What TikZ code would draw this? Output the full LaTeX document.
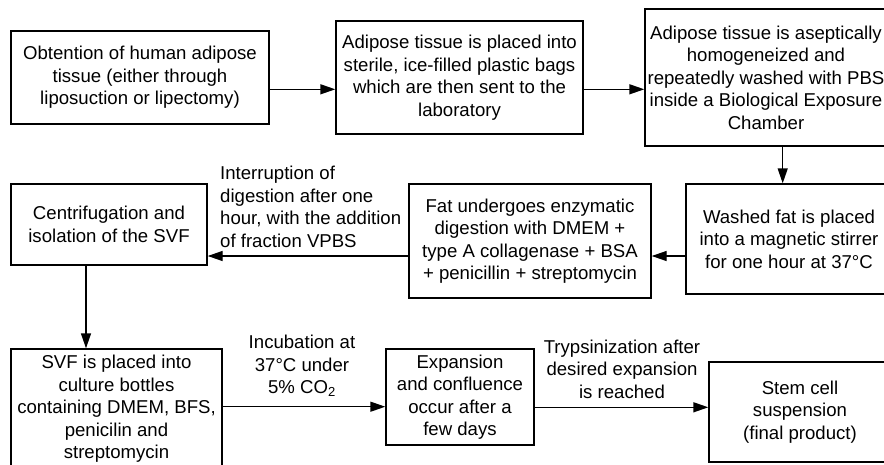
\documentclass[tikz,border=0pt]{standalone}
\usepackage{fontspec}
\setmainfont{Liberation Sans}
\usetikzlibrary{arrows.meta}
\tikzset{
  txt/.style={font=\fontsize{18.6}{22.5}\selectfont, inner sep=0pt},
  stepbox/.style={txt, draw, line width=1.4pt, align=center},
  lbl/.style={txt},
  arr/.style={line width=1.4pt, -{Triangle[length=15pt,width=10pt]}},
  link/.style={line width=1.4pt}
}
\begin{document}
\begin{tikzpicture}[x=1pt,y=-1pt]
\clip (0,0) rectangle (884,464);
\fill[white] (0,0) rectangle (884,464);

% process steps
\node[stepbox, minimum width=258pt, minimum height=93pt] (b1) at (140,77.5)
  {Obtention of human adipose\\tissue (either through\\liposuction or lipectomy)};
\node[stepbox, minimum width=247pt, minimum height=113pt] (b2) at (459.5,77.5)
  {Adipose tissue is placed into\\sterile, ice-filled plastic bags\\which are then sent to the\\laboratory};
\node[stepbox, minimum width=242pt, minimum height=137pt] (b3) at (766,77.5)
  {Adipose tissue is aseptically\\homogeneized and\\repeatedly washed with PBS\\inside a Biological Exposure\\Chamber};
\node[stepbox, minimum width=206pt, minimum height=110pt] (b4) at (789,239)
  {Washed fat is placed\\into a magnetic stirrer\\for one hour at 37°C};
\node[stepbox, minimum width=242pt, minimum height=114pt] (b5) at (530,241)
  {Fat undergoes enzymatic\\digestion with DMEM +\\type A collagenase + BSA\\+ penicillin + streptomycin};
\node[stepbox, minimum width=196pt, minimum height=81pt] (b6) at (109,224.5)
  {Centrifugation and\\isolation of the SVF};
\node[stepbox, minimum width=211pt, minimum height=120pt] (b7) at (116.5,409)
  {SVF is placed into\\culture bottles\\containing DMEM, BFS,\\penicilin and\\streptomycin};
\node[stepbox, minimum width=148pt, minimum height=96pt] (b8) at (460,397)
  {Expansion\\and confluence\\occur after a\\few days};
\node[stepbox, minimum width=182pt, minimum height=100pt] (b9) at (800,412)
  {Stem cell\\suspension\\(final product)};

% connector labels
\node[lbl, anchor=west, align=left] (l1) at (220,207)
  {Interruption of\\digestion after one\\hour, with the addition\\of fraction VPBS};
\node[lbl, align=center] (l2) at (302,366)
  {Incubation at\\37°C under\\5\% CO\textsubscript{2}};
\node[lbl, align=center] (l3) at (622,369)
  {Trypsinization after\\desired expansion\\is reached};

% connectors
\draw[arr] ([yshift=-11.8pt]b1.east) -- ([yshift=-11.8pt]b1.east -| b2.west);
\draw[arr] ([yshift=-11.8pt]b2.east) -- ([yshift=-11.8pt]b2.east -| b3.west);
\draw[arr] ([xshift=16.7pt]b3.south) -- ([xshift=16.7pt]b3.south |- b4.north);
\draw[arr] ([yshift=-17pt]b4.west) -- ([yshift=-17pt]b4.west -| b5.east);
\draw[arr] ([yshift=-15pt]b5.west) -- ([yshift=-15pt]b5.west -| b6.east);
\draw[arr] ([xshift=-23pt]b6.south) -- ([xshift=-23pt]b6.south |- b7.north);
\draw[arr] ([yshift=-9.7pt]b8.west -| b7.east) -- ([yshift=-9.7pt]b8.west);
\draw[arr] ([yshift=4.7pt]b9.west -| b8.east) -- ([yshift=4.7pt]b9.west);
\end{tikzpicture}
\end{document}
